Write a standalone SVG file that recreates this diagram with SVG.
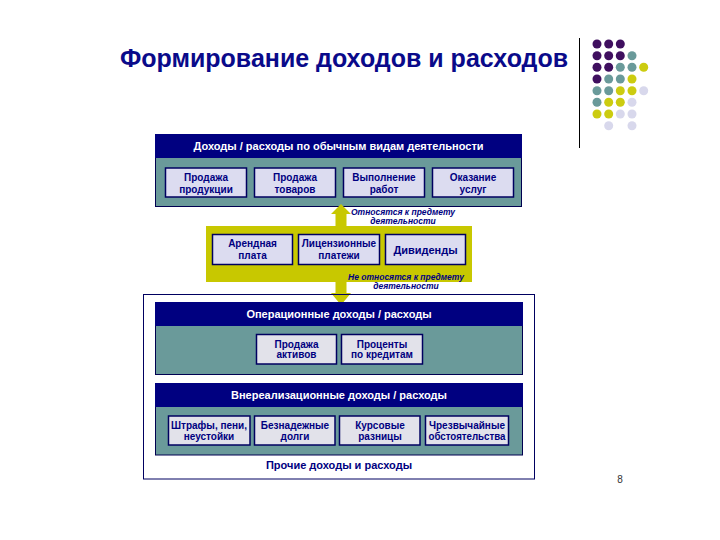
<svg xmlns="http://www.w3.org/2000/svg" width="720" height="540" viewBox="0 0 720 540">
<style>
text{font-family:"Liberation Sans",Arial,sans-serif;font-weight:bold;text-anchor:middle}
.title{font-size:25px;fill:#0a0a8a}
.hdr{fill:#000080}
.body{fill:#6a9a9a;stroke:#000050;stroke-width:1}
.hdrtxt{font-size:11px;fill:#ffffff}
.box{fill:#dcdcf0;stroke:#000060;stroke-width:1.5}
.gbox{fill:#e2e2ea;stroke:#000060;stroke-width:1.5}
.bt{font-size:10px;fill:#000080}
.yt{font-size:10px;fill:#000080}
.lbl{font-size:8.5px;font-style:italic;fill:#000080}
.arrow{fill:#c8c800}
.pu{fill:#3f0f5f}.te{fill:#6a9a9a}.ye{fill:#cccc10}.la{fill:#d8d8ec}
</style>
<rect width="720" height="540" fill="#ffffff"/>
<text class="title" x="344" y="67">Формирование доходов и расходов</text>
<line x1="579.5" y1="38" x2="579.5" y2="148" stroke="#000000" stroke-width="1"/>
<g id="dots">
<circle class="pu" cx="597" cy="44" r="4.5"/><circle class="pu" cx="608.7" cy="44" r="4.5"/><circle class="pu" cx="620.3" cy="44" r="4.5"/>
<circle class="pu" cx="597" cy="55.7" r="4.5"/><circle class="pu" cx="608.7" cy="55.7" r="4.5"/><circle class="pu" cx="620.3" cy="55.7" r="4.5"/><circle class="te" cx="632" cy="55.7" r="4.5"/>
<circle class="pu" cx="597" cy="67.3" r="4.5"/><circle class="pu" cx="608.7" cy="67.3" r="4.5"/><circle class="te" cx="620.3" cy="67.3" r="4.5"/><circle class="te" cx="632" cy="67.3" r="4.5"/><circle class="ye" cx="643.7" cy="67.3" r="4.5"/>
<circle class="pu" cx="597" cy="79" r="4.5"/><circle class="te" cx="608.7" cy="79" r="4.5"/><circle class="te" cx="620.3" cy="79" r="4.5"/><circle class="ye" cx="632" cy="79" r="4.5"/>
<circle class="te" cx="597" cy="90.7" r="4.5"/><circle class="te" cx="608.7" cy="90.7" r="4.5"/><circle class="ye" cx="620.3" cy="90.7" r="4.5"/><circle class="ye" cx="632" cy="90.7" r="4.5"/><circle class="la" cx="643.7" cy="90.7" r="4.5"/>
<circle class="te" cx="597" cy="102.3" r="4.5"/><circle class="ye" cx="608.7" cy="102.3" r="4.5"/><circle class="ye" cx="620.3" cy="102.3" r="4.5"/><circle class="la" cx="632" cy="102.3" r="4.5"/>
<circle class="ye" cx="597" cy="114" r="4.5"/><circle class="ye" cx="608.7" cy="114" r="4.5"/><circle class="la" cx="620.3" cy="114" r="4.5"/><circle class="la" cx="632" cy="114" r="4.5"/>
<circle class="la" cx="608.7" cy="125.7" r="4.5"/><circle class="la" cx="632" cy="125.7" r="4.5"/>
</g>

<g id="ordinary">
<rect class="body" x="155.5" y="134.5" width="366" height="72"/>
<rect class="hdr" x="155" y="134" width="367" height="24"/>
<text class="hdrtxt" x="338.5" y="150">Доходы / расходы по обычным видам деятельности</text>
</g>
<g id="o1"><rect class="box" x="165.5" y="168" width="81" height="29"/><text class="bt" x="206" y="181">Продажа</text><text class="bt" x="206" y="193">продукции</text></g>
<g id="o2"><rect class="box" x="254.5" y="168" width="81" height="29"/><text class="bt" x="295" y="181">Продажа</text><text class="bt" x="295" y="193">товаров</text></g>
<g id="o3"><rect class="box" x="343.5" y="168" width="81" height="29"/><text class="bt" x="384" y="181">Выполнение</text><text class="bt" x="384" y="193">работ</text></g>
<g id="o4"><rect class="box" x="432.5" y="168" width="81" height="29"/><text class="bt" x="473" y="181">Оказание</text><text class="bt" x="473" y="193">услуг</text></g>

<g id="connectors">
<polygon class="arrow" points="341,204 351,214 346.5,214 346.5,293 351,293 341,305 331,293 335.5,293 335.5,214 331,214"/>
</g>

<g id="middle">
<rect x="206" y="226" width="266" height="56" fill="#c8c800"/>
</g>
<g id="m1"><rect class="box" x="212.5" y="234.5" width="80" height="30"/><text class="yt" x="252.5" y="247">Арендная</text><text class="yt" x="252.5" y="259">плата</text></g>
<g id="m2"><rect class="box" x="298.5" y="234.5" width="81" height="30"/><text class="yt" x="339" y="247">Лицензионные</text><text class="yt" x="339" y="259">платежи</text></g>
<g id="m3"><rect class="box" x="385.5" y="234.5" width="80" height="30"/><text class="yt" x="425.5" y="253.5" style="font-size:11px">Дивиденды</text></g>
<text class="lbl" x="403" y="215">Относятся к предмету</text>
<text class="lbl" x="403" y="224">деятельности</text>
<text class="lbl" x="406" y="280">Не относятся к предмету</text>
<text class="lbl" x="406" y="289">деятельности</text>

<g id="other">
<rect x="143.5" y="294.5" width="391" height="184.5" fill="none" stroke="#000060" stroke-width="1"/>
<text x="339" y="469" style="font-size:11px;fill:#000080">Прочие доходы и расходы</text>
</g>
<g id="operational">
<rect class="body" x="155.5" y="302.5" width="367" height="72"/>
<rect class="hdr" x="155" y="302" width="368" height="24"/>
<text class="hdrtxt" x="339" y="318">Операционные доходы / расходы</text>
</g>
<g id="op1"><rect class="gbox" x="256.5" y="334.5" width="80" height="29.5"/><text class="bt" x="296.5" y="347.5">Продажа</text><text class="bt" x="296.5" y="358">активов</text></g>
<g id="op2"><rect class="gbox" x="341.5" y="334.5" width="81" height="29.5"/><text class="bt" x="382" y="347.5">Проценты</text><text class="bt" x="382" y="358">по кредитам</text></g>

<g id="nonoperational">
<rect class="body" x="155.5" y="383.5" width="367" height="71.5"/>
<rect class="hdr" x="155" y="383" width="368" height="24"/>
<text class="hdrtxt" x="339" y="399">Внереализационные доходы / расходы</text>
</g>
<g id="n1"><rect class="gbox" x="168.5" y="416" width="81.5" height="29"/><text class="yt" x="209" y="429">Штрафы, пени,</text><text class="yt" x="209" y="440">неустойки</text></g>
<g id="n2"><rect class="gbox" x="254.5" y="416" width="80.5" height="29"/><text class="yt" x="295" y="429">Безнадежные</text><text class="yt" x="295" y="440">долги</text></g>
<g id="n3"><rect class="gbox" x="339.5" y="416" width="80.5" height="29"/><text class="yt" x="380" y="429">Курсовые</text><text class="yt" x="380" y="440">разницы</text></g>
<g id="n4"><rect class="gbox" x="425.5" y="416" width="83" height="29"/><text class="yt" x="467" y="429">Чрезвычайные</text><text class="yt" x="467" y="440" textLength="77" lengthAdjust="spacingAndGlyphs">обстоятельства</text></g>

<text x="620" y="483" style="font-size:10px;font-weight:normal;fill:#333333">8</text>
</svg>
